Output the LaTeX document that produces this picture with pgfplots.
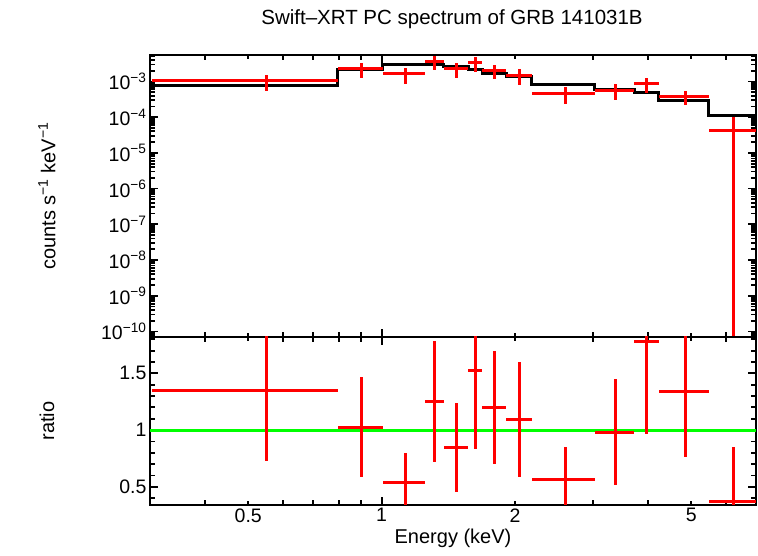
\documentclass[border=0pt]{standalone}
\usepackage{fontspec}
\setmainfont{Liberation Sans}
\usepackage{pgfplots}
\usepackage{pgfplotstable}
\pgfplotsset{compat=1.18}

\pgfplotstableread{
x xm xp y ey
0.549 0.246 0.247 1.03e-3 4.9e-4
0.901 0.105 0.105 2.25e-3 9.7e-4
1.130 0.124 0.124 1.62e-3 7.7e-4
1.317 0.063 0.063 3.7e-3 1.6e-3
1.473 0.093 0.094 2.25e-3 1.03e-3
1.626 0.059 0.059 3.35e-3 1.5e-3
1.798 0.113 0.114 2.06e-3 8.6e-4
2.046 0.134 0.134 1.5e-3 7e-4
2.605 0.425 0.425 4.6e-4 2.3e-4
3.375 0.345 0.345 5.6e-4 2.65e-4
3.970 0.250 0.250 8.5e-4 3.9e-4
4.850 0.630 0.630 3.85e-4 1.65e-4
}\spec

\pgfplotstableread{
x xm xp y ey
6.24 0.76 0.76 4.3e-5 5.9e-5
}\speclast

\pgfplotstableread{
x xm xp r er
0.549 0.246 0.247 1.348 0.617
0.901 0.105 0.105 1.024 0.44
1.130 0.124 0.124 0.541 0.257
1.317 0.063 0.063 1.252 0.53
1.473 0.093 0.094 0.848 0.39
1.626 0.059 0.059 1.524 0.69
1.798 0.113 0.114 1.199 0.50
2.046 0.134 0.134 1.094 0.51
2.605 0.425 0.425 0.567 0.285
3.375 0.345 0.345 0.982 0.465
3.970 0.250 0.250 1.778 0.816
4.850 0.630 0.630 1.339 0.576
6.24 0.76 0.76 0.375 0.476
}\ratio

\begin{document}
\begin{tikzpicture}
\path[use as bounding box] (0,0) rectangle (758bp,556bp);

\node[font=\fontsize{20.5bp}{24bp}\selectfont] at (452bp,537bp) {Swift\textendash XRT PC spectrum of GRB 141031B};

\begin{axis}[
  scale only axis,
  width=606bp,
  height=282bp,
  at={(150bp,219bp)}, anchor=south west,
  xmode=log,
  ymode=log,
  xmin=0.3, xmax=7,
  ymin=7e-11, ymax=5.5e-3,
  axis line style={line width=2bp},
  tick pos=both,
  tick align=inside,
  major tick style={black, line width=1.8bp},
  minor tick style={black, line width=1.8bp},
  major tick length=8bp,
  minor tick length=5bp,
  xtick={1},
  xticklabels={},
  extra x ticks={0.5,2,5},
  extra x tick labels={},
  extra x tick style={major tick length=4bp},
  minor xtick={0.3,0.4,0.6,0.7,0.8,0.9,3,4,6,7},
  ytick={1e-10,1e-9,1e-8,1e-7,1e-6,1e-5,1e-4,1e-3},
  minor ytick={8e-11,9e-11,2e-10,3e-10,4e-10,5e-10,6e-10,7e-10,8e-10,9e-10,2e-9,3e-9,4e-9,5e-9,6e-9,7e-9,8e-9,9e-9,2e-8,3e-8,4e-8,5e-8,6e-8,7e-8,8e-8,9e-8,2e-7,3e-7,4e-7,5e-7,6e-7,7e-7,8e-7,9e-7,2e-6,3e-6,4e-6,5e-6,6e-6,7e-6,8e-6,9e-6,2e-5,3e-5,4e-5,5e-5,6e-5,7e-5,8e-5,9e-5,2e-4,3e-4,4e-4,5e-4,6e-4,7e-4,8e-4,9e-4,2e-3,3e-3,4e-3,5e-3},
  yticklabels={10\textsuperscript{−10},10\textsuperscript{−9},10\textsuperscript{−8},10\textsuperscript{−7},10\textsuperscript{−6},10\textsuperscript{−5},10\textsuperscript{−4},10\textsuperscript{−3}},
  yticklabel style={font=\fontsize{19.5bp}{22bp}\selectfont},
  ylabel={counts s\textsuperscript{−1} keV\textsuperscript{−1}},
  ylabel style={font=\fontsize{20bp}{22bp}\selectfont, at={(axis description cs:-0.170,0.5)}, anchor=center},
]
\addplot[black, line width=3bp, const plot, mark=none] coordinates {
(0.3,7.5e-4)(0.796,2.2e-3)(1.006,2.95e-3)(1.254,2.9e-3)(1.38,2.65e-3)(1.567,2.22e-3)(1.685,1.72e-3)(1.912,1.35e-3)(2.18,8.0e-4)(3.03,5.9e-4)(3.72,4.75e-4)(4.22,2.85e-4)(5.48,1.13e-4)(7.0,1.13e-4)};
\addplot[draw=none, mark=none,
  error bars/.cd, x dir=both, x explicit, y dir=both, y explicit, error mark=none,
  error bar style={red, line width=3bp}]
  table[x=x, y=y, x error minus=xm, x error plus=xp, y error=ey] {\spec};
\addplot[draw=none, mark=none,
  error bars/.cd, x dir=both, x explicit, y dir=plus, y explicit, error mark=none,
  error bar style={red, line width=3bp}]
  table[x=x, y=y, x error minus=xm, x error plus=xp, y error plus=ey] {\speclast};
\addplot[red, line width=3bp, mark=none] coordinates {(6.24,1e-12)(6.24,4.3e-5)};
\end{axis}

\begin{axis}[
  scale only axis,
  width=606bp,
  height=168bp,
  at={(150bp,51bp)}, anchor=south west,
  xmode=log,
  xmin=0.3, xmax=7,
  ymin=0.34, ymax=1.82,
  axis line style={line width=2bp},
  tick pos=both,
  tick align=inside,
  major tick style={black, line width=1.8bp},
  minor tick style={black, line width=1.8bp},
  major tick length=8bp,
  minor tick length=5bp,
  xtick={1},
  xticklabels={1},
  extra x ticks={0.5,2,5},
  extra x tick labels={0.5,2,5},
  extra x tick style={major tick length=4bp},
  minor xtick={0.3,0.4,0.6,0.7,0.8,0.9,3,4,6,7},
  ytick={0.5,1,1.5},
  yticklabels={0.5,1,1.5},
  minor ytick={0.4,0.6,0.7,0.8,0.9,1.1,1.2,1.3,1.4,1.6,1.7,1.8},
  ticklabel style={font=\fontsize{19.5bp}{22bp}\selectfont},
  xlabel={Energy (keV)},
  ylabel={ratio},
  xlabel style={font=\fontsize{20bp}{22bp}\selectfont},
  ylabel style={font=\fontsize{20bp}{22bp}\selectfont, at={(axis description cs:-0.170,0.5)}, anchor=center},
]
\addplot[green, line width=3bp, mark=none] coordinates {(0.3,1)(7,1)};
\addplot[draw=none, mark=none,
  error bars/.cd, x dir=both, x explicit, y dir=both, y explicit, error mark=none,
  error bar style={red, line width=3bp}]
  table[x=x, y=r, x error minus=xm, x error plus=xp, y error=er] {\ratio};
\end{axis}
\end{tikzpicture}
\end{document}
